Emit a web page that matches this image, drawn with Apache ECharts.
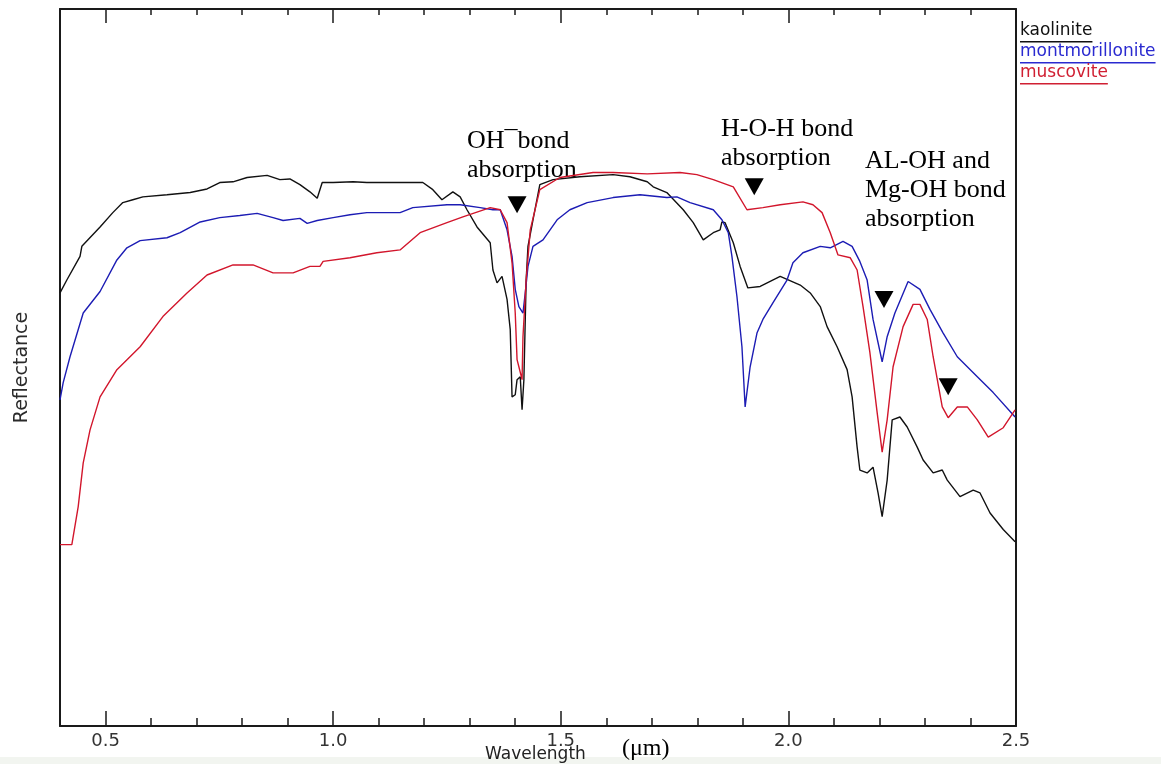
<!DOCTYPE html>
<html>
<head>
<meta charset="utf-8">
<script src="https://cdn.jsdelivr.net/npm/echarts@6/dist/echarts.min.js"></script>
<style>html,body{margin:0;padding:0;background:#fff}#c{width:1161px;height:764px}</style>
</head>
<body>
<div id="c"></div>
<script>
// Wavelength (µm) / reflectance (relative %)
const kaoliniteX = [0.400,0.415,0.444,0.448,0.488,0.516,0.538,0.560,0.582,0.635,0.686,0.723,0.751,0.780,0.811,0.855,0.883,0.905,0.927,0.949,0.965,0.976,1.000,1.044,1.074,1.147,1.197,1.219,1.239,1.263,1.279,1.294,1.316,1.345,1.351,1.360,1.371,1.382,1.389,1.393,1.400,1.404,1.411,1.415,1.419,1.424,1.428,1.439,1.454,1.483,1.542,1.615,1.652,1.690,1.703,1.733,1.769,1.791,1.813,1.835,1.850,1.854,1.861,1.879,1.894,1.911,1.938,1.982,2.026,2.048,2.070,2.085,2.107,2.129,2.140,2.151,2.157,2.173,2.186,2.197,2.206,2.217,2.228,2.245,2.261,2.283,2.296,2.318,2.338,2.349,2.377,2.406,2.421,2.443,2.472,2.498];
const kaoliniteY = [60.4,62.2,65.5,66.9,69.6,71.6,73.0,73.4,73.8,74.1,74.4,74.9,75.8,75.9,76.5,76.8,76.2,76.3,75.5,74.5,73.6,75.8,75.8,75.9,75.8,75.8,75.8,74.8,73.4,74.5,73.8,72.0,69.6,67.4,63.6,61.8,62.7,59.5,55.3,45.9,46.2,48.3,48.7,44.1,48.3,62.2,66.9,70.6,75.5,76.2,76.6,76.9,76.6,75.9,75.2,74.4,72.0,70.2,67.8,68.8,69.2,70.3,70.2,67.4,64.1,61.1,61.3,62.7,61.5,60.4,58.5,55.7,52.9,49.7,45.9,38.9,35.7,35.3,36.1,32.5,29.2,34.3,42.7,43.1,41.7,38.9,37.1,35.3,35.7,34.3,32.0,32.9,32.5,29.7,27.4,25.7];

const montX = [0.400,0.407,0.422,0.451,0.488,0.525,0.547,0.576,0.635,0.664,0.708,0.751,0.795,0.833,0.868,0.890,0.927,0.943,0.965,1.000,1.037,1.074,1.147,1.175,1.250,1.279,1.323,1.351,1.367,1.382,1.393,1.400,1.408,1.417,1.422,1.428,1.439,1.461,1.492,1.520,1.558,1.615,1.674,1.733,1.755,1.784,1.835,1.854,1.868,1.876,1.887,1.898,1.905,1.916,1.931,1.944,1.966,1.997,2.010,2.032,2.070,2.092,2.120,2.140,2.157,2.173,2.186,2.206,2.217,2.234,2.263,2.289,2.311,2.340,2.371,2.415,2.450,2.498];
const montY = [45.5,47.9,51.5,57.6,60.6,65.0,66.7,67.7,68.1,68.8,70.3,70.9,71.2,71.5,70.9,70.5,70.8,70.1,70.5,70.9,71.3,71.6,71.6,72.3,72.7,72.7,72.3,72.0,72.0,69.2,65.5,60.9,58.5,57.6,60.4,64.1,66.9,67.8,70.6,72.0,73.0,73.7,74.1,73.7,73.8,73.0,72.0,70.6,68.8,65.5,59.9,52.9,44.5,50.1,54.8,56.7,59.0,62.2,64.6,66.0,66.9,66.7,67.6,66.9,64.8,62.2,56.7,50.8,54.3,57.6,62.0,60.9,58.1,54.8,51.5,48.7,46.5,43.1];

const muscX = [0.400,0.426,0.440,0.451,0.466,0.488,0.525,0.576,0.626,0.679,0.723,0.780,0.824,0.868,0.912,0.949,0.971,0.978,1.037,1.096,1.147,1.191,1.250,1.285,1.345,1.367,1.382,1.393,1.400,1.404,1.408,1.415,1.417,1.424,1.433,1.454,1.498,1.571,1.615,1.690,1.762,1.799,1.835,1.879,1.909,1.944,1.982,2.032,2.054,2.074,2.092,2.109,2.136,2.151,2.164,2.179,2.195,2.206,2.217,2.230,2.252,2.274,2.289,2.305,2.318,2.338,2.351,2.371,2.393,2.415,2.439,2.472,2.498];
const muscY = [25.3,25.3,30.6,36.7,41.3,45.9,49.7,52.9,57.1,60.4,62.9,64.3,64.3,63.2,63.2,64.1,64.1,64.8,65.3,66.0,66.4,68.8,70.2,71.0,72.3,72.0,70.2,64.6,57.6,51.1,50.1,48.3,54.3,62.2,69.2,74.8,76.5,77.2,77.2,77.0,77.2,76.9,76.2,75.2,72.0,72.3,72.7,73.1,72.7,71.6,68.8,65.7,65.3,63.6,58.5,52.1,43.7,38.2,42.7,50.1,55.7,58.8,58.8,56.7,51.5,44.5,43.0,44.5,44.5,42.7,40.3,41.6,44.1];

// absorption markers (triangles)
const markerX = [1.404, 1.925, 2.210, 2.351];
const markerY = [72.7, 75.2, 59.5, 47.3];

const seriesNames = ['kaolinite', 'montmorillonite', 'muscovite'];
const majorTicks = [0.5, 1.0, 1.5, 2.0, 2.5];
const tickLabels = ['0.5', '1.0', '1.5', '2.0', '2.5'];
const minorTicks = [0.6,0.7,0.8,0.9,1.1,1.2,1.3,1.4,1.6,1.7,1.8,1.9,2.1,2.2,2.3,2.4];

const annotations = ['OH\u00AFbond\nabsorption', 'H-O-H bond\nabsorption', 'AL-OH and\nMg-OH bond\nabsorption'];

function zip(xs, ys) { return xs.map((x, i) => [x, ys[i]]); }

const lineColors = ['#111111', '#1c1cb4', '#d2162c'];
const legendColors = ['#111111', '#2a2ad0', '#d01f32'];

const chart = echarts.init(document.getElementById('c'), null, {renderer: 'canvas'});

const axisCol = '#1a1a1a';
const lblFont = 'DejaVu Sans';

function measure(text, font) {
  const c = document.createElement('canvas').getContext('2d');
  c.font = font; return c.measureText(text).width;
}

const graphics = [];
// bottom light strip
graphics.push({type: 'rect', left: 0, top: 757, z: -10, shape: {width: 1161, height: 7}, style: {fill: '#f2f5f0'}});
// legend
const legTop = [22, 43, 64];
seriesNames.forEach((n, i) => {
  const f = '17px ' + lblFont;
  const w = measure(n, f);
  graphics.push({type: 'text', left: 1020, top: legTop[i], style: {text: n, fill: legendColors[i], font: f}});
  graphics.push({type: 'rect', left: 1020, top: legTop[i] + 19, shape: {width: w, height: 1.5}, style: {fill: legendColors[i]}});
});
// annotation texts
const annPos = [[467, 127], [721, 115], [865, 147]];
annotations.forEach((t, i) => {
  graphics.push({type: 'text', left: annPos[i][0], top: annPos[i][1], style: {text: t, fill: '#000', font: '26px "Liberation Serif"', lineHeight: 29}});
});
// axis title pieces
graphics.push({type: 'text', left: 485, top: 746, style: {text: 'Wavelength', fill: '#222', font: '17px ' + lblFont}});
graphics.push({type: 'text', left: 622, top: 737, style: {text: '(\u03BCm)', fill: '#000', font: '24px "Liberation Serif"'}});

const xBase = {type: 'value', min: 0.4, max: 2.5, splitLine: {show: false}};

chart.setOption({
  animation: false,
  backgroundColor: '#ffffff',
  grid: {left: 60, right: 145, top: 9, bottom: 38, containLabel: false, outerBoundsMode: 'none'},
  xAxis: [
    Object.assign({}, xBase, {position: 'bottom',
      axisLine: {show: true, onZero: false, lineStyle: {color: axisCol, width: 2}},
      axisTick: {show: true, inside: true, length: 15, customValues: majorTicks, lineStyle: {color: axisCol, width: 1.5}},
      axisLabel: {show: true, customValues: majorTicks, margin: 6, color: '#333', fontFamily: lblFont, fontSize: 18,
        formatter: v => { const k = majorTicks.findIndex(m => Math.abs(m - v) < 1e-9); return k >= 0 ? tickLabels[k] : ''; }}}),
    Object.assign({}, xBase, {position: 'bottom',
      axisLine: {show: false, onZero: false},
      axisTick: {show: true, inside: true, length: 8, customValues: minorTicks, lineStyle: {color: axisCol, width: 1.5}},
      axisLabel: {show: false}}),
    Object.assign({}, xBase, {position: 'top',
      axisLine: {show: true, onZero: false, lineStyle: {color: axisCol, width: 2}},
      axisTick: {show: true, inside: true, length: 14, customValues: majorTicks, lineStyle: {color: axisCol, width: 1.5}},
      axisLabel: {show: false}}),
    Object.assign({}, xBase, {position: 'top',
      axisLine: {show: false, onZero: false},
      axisTick: {show: true, inside: true, length: 6, customValues: minorTicks, lineStyle: {color: axisCol, width: 1.5}},
      axisLabel: {show: false}})
  ],
  yAxis: [
    {type: 'value', min: 0, max: 100, position: 'left', name: 'Reflectance', nameLocation: 'middle', nameGap: 28,
      nameTextStyle: {color: '#2a2a2a', fontFamily: lblFont, fontSize: 19},
      axisLine: {show: true, onZero: false, lineStyle: {color: axisCol, width: 2}},
      axisTick: {show: false}, axisLabel: {show: false}, splitLine: {show: false}},
    {type: 'value', min: 0, max: 100, position: 'right',
      axisLine: {show: true, onZero: false, lineStyle: {color: axisCol, width: 2}},
      axisTick: {show: false}, axisLabel: {show: false}, splitLine: {show: false}}
  ],
  series: [
    {name: seriesNames[0], type: 'line', data: zip(kaoliniteX, kaoliniteY), showSymbol: false, symbol: 'none', lineStyle: {color: lineColors[0], width: 1.4}, z: 3},
    {name: seriesNames[1], type: 'line', data: zip(montX, montY), showSymbol: false, symbol: 'none', lineStyle: {color: lineColors[1], width: 1.4}, z: 4},
    {name: seriesNames[2], type: 'line', data: zip(muscX, muscY), showSymbol: false, symbol: 'none', lineStyle: {color: lineColors[2], width: 1.4}, z: 5},
    {name: 'markers', type: 'scatter', data: zip(markerX, markerY), symbol: 'triangle', symbolRotate: 180, symbolSize: [19, 17], itemStyle: {color: '#000', opacity: 1}, z: 6}
  ],
  graphic: graphics
});
</script>
</body>
</html>
